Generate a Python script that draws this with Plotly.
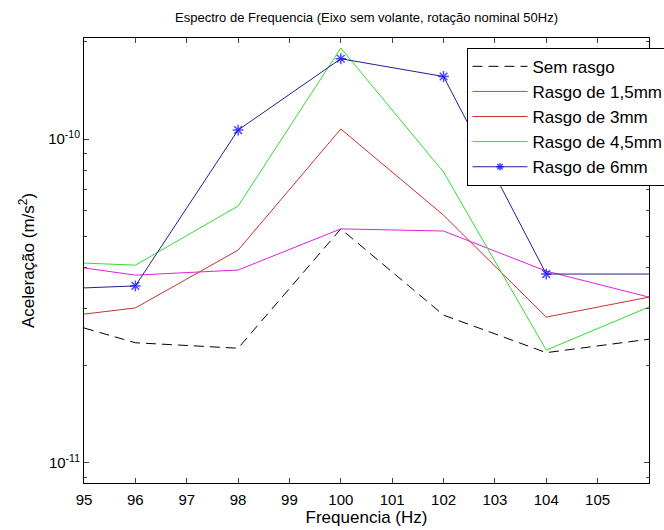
import plotly.graph_objects as go

freq = [95, 96, 98, 100, 102, 104, 106]
sem_rasgo = [2.61e-11, 2.35e-11, 2.26e-11, 5.28e-11, 2.86e-11, 2.19e-11, 2.41e-11]
rasgo_1_5 = [4.00e-11, 3.80e-11, 3.94e-11, 5.28e-11, 5.20e-11, 3.91e-11, 3.25e-11]
rasgo_3 = [2.88e-11, 3.01e-11, 4.54e-11, 1.074e-10, 5.82e-11, 2.82e-11, 3.25e-11]
rasgo_4_5 = [4.14e-11, 4.08e-11, 6.21e-11, 1.91e-10, 7.91e-11, 2.23e-11, 3.03e-11]
rasgo_6 = [3.47e-11, 3.52e-11, 1.066e-10, 1.77e-10, 1.56e-10, 3.83e-11, 3.83e-11]

x_ticks = [95, 96, 97, 98, 99, 100, 101, 102, 103, 104, 105]
y_major = [1e-11, 1e-10]
y_major_text = ["10<sup>-11</sup>", "10<sup>-10</sup>"]
y_minor = [9e-12, 2e-11, 3e-11, 4e-11, 5e-11, 6e-11, 7e-11, 8e-11, 9e-11, 2e-10]

FONT = "Liberation Sans, Arial, sans-serif"

fig = go.Figure()
fig.add_trace(go.Scatter(x=freq, y=sem_rasgo, mode="lines", name="Sem rasgo",
                         line=dict(color="#000000", width=1, dash="10px,6px"), legendgroup="a"))
fig.add_trace(go.Scatter(x=freq, y=rasgo_1_5, mode="lines", name="Rasgo de 1,5mm",
                         line=dict(color="#e020e0", width=1), legendgroup="b"))
fig.add_trace(go.Scatter(x=freq, y=rasgo_3, mode="lines", name="Rasgo de 3mm",
                         line=dict(color="#c83030", width=1), legendgroup="c"))
fig.add_trace(go.Scatter(x=freq, y=rasgo_4_5, mode="lines", name="Rasgo de 4,5mm",
                         line=dict(color="#30dd30", width=1), legendgroup="d"))
fig.add_trace(go.Scatter(x=freq, y=rasgo_6, mode="lines+markers", name="Rasgo de 6mm",
                         line=dict(color="#202090", width=1), legendgroup="e",
                         marker=dict(symbol="asterisk-open", size=[0, 9, 9, 9, 9, 9, 0],
                                     color="#0000ff", line=dict(color="#0000ff", width=1.5))))

fig.update_layout(
    width=664, height=530,
    margin=dict(l=84, r=15, t=38, b=47, autoexpand=False),
    paper_bgcolor="white", plot_bgcolor="white",
    font=dict(family=FONT, size=14, color="#000000"),
    title=dict(text="Espectro de Frequencia (Eixo sem volante, rotação nominal 50Hz)",
               x=0.552, xanchor="center", y=0.968, yanchor="middle",
               font=dict(family=FONT, size=13)),
    showlegend=True,
    legend=dict(x=0.677, y=0.978, xanchor="left", yanchor="top",
                bgcolor="white", bordercolor="black", borderwidth=1,
                font=dict(family=FONT, size=17),
                itemwidth=55,
                traceorder="grouped", tracegroupgap=0),
)
fig.update_xaxes(range=[95, 106], tickvals=x_ticks, ticks="inside", ticklen=5,
                 showline=True, linecolor="black", linewidth=1, mirror="ticks",
                 showgrid=False, zeroline=False, ticklabelstandoff=3, automargin=False,
                 title=dict(text="Frequencia (Hz)", standoff=4),
                 tickfont=dict(size=15))
fig.update_yaxes(type="log", range=[-11.062, -9.688], tickvals=y_major, ticktext=y_major_text,
                 ticks="inside", ticklen=5, showline=True, linecolor="black", linewidth=1,
                 mirror="ticks", showgrid=False, zeroline=False, automargin=False,
                 minor=dict(tickvals=y_minor, ticks="inside", ticklen=3, showgrid=False),
                 title=dict(text="Aceleração (m/s<sup>2</sup>)", standoff=9),
                 tickfont=dict(size=15))

fig.write_html("out.html")
